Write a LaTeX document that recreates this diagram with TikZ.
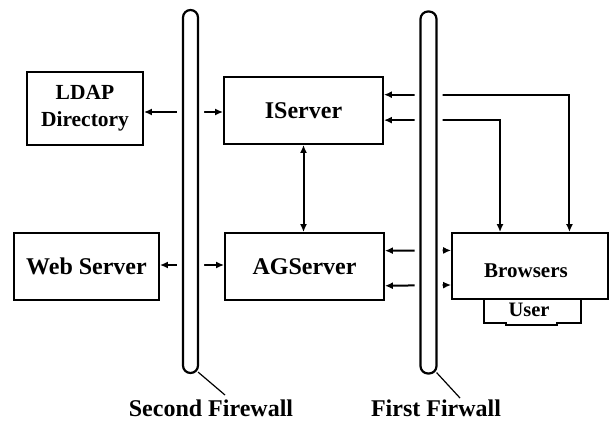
\documentclass[tikz,border=0pt]{standalone}
\usepackage{fontspec}
\setmainfont{Liberation Serif}
\usetikzlibrary{arrows.meta,calc}

\begin{document}
\begin{tikzpicture}[x=1pt,y=-1pt,
		box/.style={draw, line width=1.8pt, inner sep=0pt, align=center},
		lbl/.style={font=\bfseries\fontsize{24}{26}\selectfont},
		wall/.style={draw, fill=white, line width=2.2pt, rounded corners=7.5pt, inner sep=0pt, minimum width=15pt, preaction={draw=white, line width=12pt}},
		link/.style={line width=2pt, {Latex[length=8pt,width=7pt]}-{Latex[length=8pt,width=7pt]}},
		lead/.style={line width=1.2pt}]
		\useasboundingbox[fill=white] (0,0) rectangle (609,421);

		% servers
		\node[box, minimum width=116pt, minimum height=73pt, font=\bfseries\fontsize{21.5}{27}\selectfont] (ldap) at (85,108.5) {LDAP\\Directory};
		\node[box, lbl, minimum width=159pt, minimum height=67pt] (iserver) at (303.5,110.5) {IServer};
		\node[box, lbl, minimum width=145pt, minimum height=67pt] (web) at (86.5,266.5) {Web Server};
		\node[box, lbl, minimum width=159pt, minimum height=67pt] (agserver) at (304.5,266.5) {AGServer};
		\node[box, minimum width=156pt, minimum height=66pt] (browsers) at (530,266) {};
		\node[font=\bfseries\fontsize{21}{23}\selectfont] (btext) at (526,271) {Browsers};

		% user tab under the browsers
		\draw[line width=1.8pt] (484,299) -- (484,323) -- (506,323) -- (506,325) -- (557,325) -- (557,323) -- (581,323) -- (581,299);
		\node[font=\bfseries\fontsize{20.5}{22}\selectfont] (user) at (529,310) {User};

		% connections
		\draw[link] (iserver.west |- 0,112) -- (ldap.east |- 0,112);
		\draw[link] (agserver.west |- 0,265) -- (web.east |- 0,265);
		\draw[link] (iserver.south) -- (iserver.south |- agserver.north);
		\draw[link] ($(iserver.north east)!0.27!(iserver.south east)$) -| ($(browsers.north west)!0.75!(browsers.north east)$);
		\draw[link] ($(iserver.north east)!0.64!(iserver.south east)$) -| ($(browsers.north west)!0.31!(browsers.north east)$);
		\draw[link] ($(agserver.north east)!0.27!(agserver.south east)$) -- ($(browsers.north west)!0.27!(browsers.south west)$);
		\draw[link] ($(agserver.north east)!0.78!(agserver.south east)$) -- ($(browsers.north west)!0.78!(browsers.south west)$);

		% firewalls
		\node[wall, minimum height=363pt] (fw2) at (190.5,191.5) {};
		\node[wall, minimum height=362pt, minimum width=16pt] (fw1) at (428.5,192.5) {};

		\node[lbl, anchor=base] (fw2name) at (211,416) {Second Firewall};
		\node[lbl, anchor=base] (fw1name) at (436,416) {First Firwall};
		\coordinate (fw2tip) at (225,395);
		\coordinate (fw1tip) at (460,398);
		\draw[lead] ($(fw2.south east)+(-1,-2)$) -- (fw2tip);
		\draw[lead] ($(fw1.south east)+(-1,-2)$) -- (fw1tip);
	\end{tikzpicture}
\end{document}
